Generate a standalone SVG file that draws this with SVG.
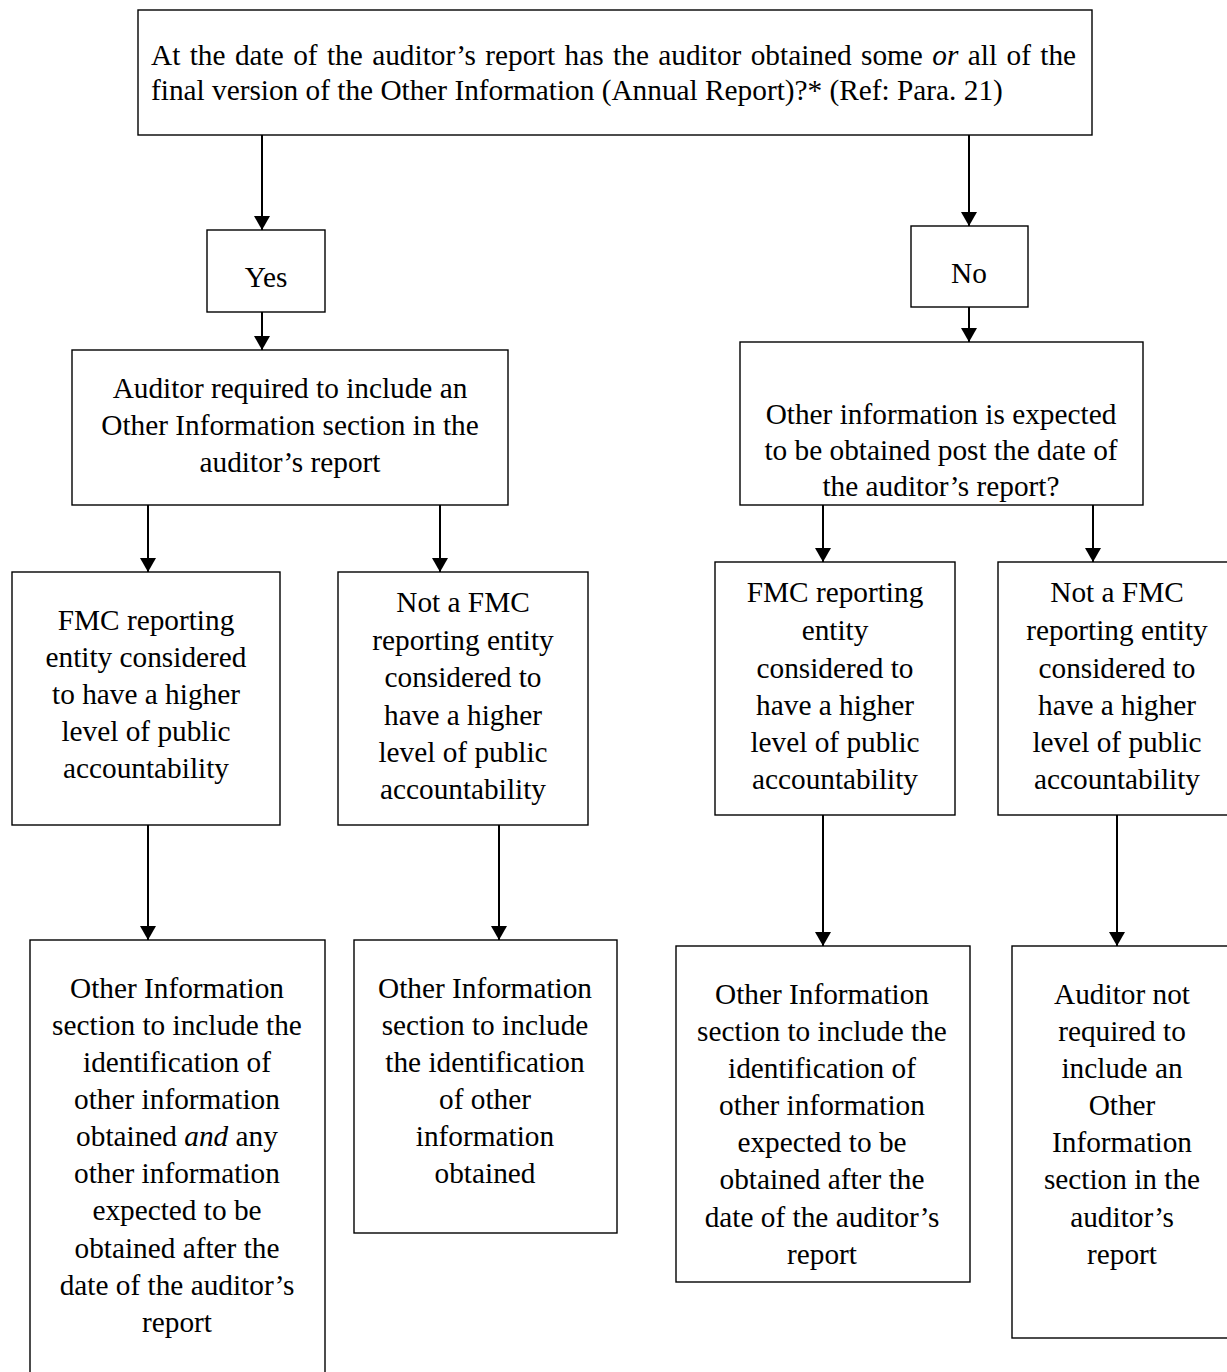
<svg xmlns="http://www.w3.org/2000/svg" width="1227" height="1372" viewBox="0 0 1227 1372">
<style>
.box{fill:#fff;stroke:#000;stroke-width:1.4}
.t{font-family:"Liberation Serif","Times New Roman",serif;font-size:29.3px;fill:#000}
.c{text-anchor:middle}
.ln{stroke:#000;stroke-width:2;fill:none;marker-end:url(#ah)}
</style>
<defs>
<marker id="ah" markerWidth="8" markerHeight="8" refX="7" refY="4" orient="auto" markerUnits="strokeWidth">
<path d="M0,0 L7,4 L0,8 z" fill="#000"/>
</marker>
</defs>
<rect width="1227" height="1372" fill="#fff"/>
<g id="connectors">
<line class="ln" x1="262" y1="135" x2="262" y2="230"/>
<line class="ln" x1="969" y1="135" x2="969" y2="226"/>
<line class="ln" x1="262" y1="312" x2="262" y2="350"/>
<line class="ln" x1="969" y1="307" x2="969" y2="342"/>
<line class="ln" x1="148" y1="505" x2="148" y2="572"/>
<line class="ln" x1="440" y1="505" x2="440" y2="572"/>
<line class="ln" x1="823" y1="505" x2="823" y2="562"/>
<line class="ln" x1="1093" y1="505" x2="1093" y2="562"/>
<line class="ln" x1="148" y1="825" x2="148" y2="940"/>
<line class="ln" x1="499" y1="825" x2="499" y2="940"/>
<line class="ln" x1="823" y1="815" x2="823" y2="946"/>
<line class="ln" x1="1117" y1="815" x2="1117" y2="946"/>
</g>
<g id="n-top">
<rect class="box" x="138" y="10" width="954" height="125"/>
<text class="t" x="151" y="65" word-spacing="2.1">At the date of the auditor’s report has the auditor obtained some <tspan font-style="italic">or</tspan> all of the</text>
<text class="t" x="151" y="100">final version of the Other Information (Annual Report)?* (Ref: Para. 21)</text>
</g>
<g id="n-yes">
<rect class="box" x="207" y="230" width="118" height="82"/>
<text class="t c" x="266" y="287">Yes</text>
</g>
<g id="n-no">
<rect class="box" x="911" y="226" width="117" height="81"/>
<text class="t c" x="969" y="283">No</text>
</g>
<g id="n-required">
<rect class="box" x="72" y="350" width="436" height="155"/>
<text class="t c" x="290" y="398">Auditor required to include an</text>
<text class="t c" x="290" y="435">Other Information section in the</text>
<text class="t c" x="290" y="472">auditor’s report</text>
</g>
<g id="n-expected">
<rect class="box" x="740" y="342" width="403" height="163"/>
<text class="t c" x="941" y="424">Other information is expected</text>
<text class="t c" x="941" y="460">to be obtained post the date of</text>
<text class="t c" x="941" y="496">the auditor’s report?</text>
</g>
<g id="n-fmc-l">
<rect class="box" x="12" y="572" width="268" height="253"/>
<text class="t c" x="146" y="630">FMC reporting</text>
<text class="t c" x="146" y="667">entity considered</text>
<text class="t c" x="146" y="704">to have a higher</text>
<text class="t c" x="146" y="741">level of public</text>
<text class="t c" x="146" y="778">accountability</text>
</g>
<g id="n-notfmc-l">
<rect class="box" x="338" y="572" width="250" height="253"/>
<text class="t c" x="463" y="612">Not a FMC</text>
<text class="t c" x="463" y="650">reporting entity</text>
<text class="t c" x="463" y="687">considered to</text>
<text class="t c" x="463" y="725">have a higher</text>
<text class="t c" x="463" y="762">level of public</text>
<text class="t c" x="463" y="799">accountability</text>
</g>
<g id="n-fmc-r">
<rect class="box" x="715" y="562" width="240" height="253"/>
<text class="t c" x="835" y="602">FMC reporting</text>
<text class="t c" x="835" y="640">entity</text>
<text class="t c" x="835" y="678">considered to</text>
<text class="t c" x="835" y="715">have a higher</text>
<text class="t c" x="835" y="752">level of public</text>
<text class="t c" x="835" y="789">accountability</text>
</g>
<g id="n-notfmc-r">
<rect class="box" x="998" y="562" width="235" height="253"/>
<text class="t c" x="1117" y="602">Not a FMC</text>
<text class="t c" x="1117" y="640">reporting entity</text>
<text class="t c" x="1117" y="678">considered to</text>
<text class="t c" x="1117" y="715">have a higher</text>
<text class="t c" x="1117" y="752">level of public</text>
<text class="t c" x="1117" y="789">accountability</text>
</g>
<g id="n-b1">
<rect class="box" x="30" y="940" width="295" height="445"/>
<text class="t c" x="177" y="998">Other Information</text>
<text class="t c" x="177" y="1035">section to include the</text>
<text class="t c" x="177" y="1072">identification of</text>
<text class="t c" x="177" y="1109">other information</text>
<text class="t c" x="177" y="1146">obtained <tspan font-style="italic">and</tspan> any</text>
<text class="t c" x="177" y="1183">other information</text>
<text class="t c" x="177" y="1220">expected to be</text>
<text class="t c" x="177" y="1258">obtained after the</text>
<text class="t c" x="177" y="1295">date of the auditor’s</text>
<text class="t c" x="177" y="1332">report</text>
</g>
<g id="n-b2">
<rect class="box" x="354" y="940" width="263" height="293"/>
<text class="t c" x="485" y="998">Other Information</text>
<text class="t c" x="485" y="1035">section to include</text>
<text class="t c" x="485" y="1072">the identification</text>
<text class="t c" x="485" y="1109">of other</text>
<text class="t c" x="485" y="1146">information</text>
<text class="t c" x="485" y="1183">obtained</text>
</g>
<g id="n-b3">
<rect class="box" x="676" y="946" width="294" height="336"/>
<text class="t c" x="822" y="1004">Other Information</text>
<text class="t c" x="822" y="1041">section to include the</text>
<text class="t c" x="822" y="1078">identification of</text>
<text class="t c" x="822" y="1115">other information</text>
<text class="t c" x="822" y="1152">expected to be</text>
<text class="t c" x="822" y="1189">obtained after the</text>
<text class="t c" x="822" y="1227">date of the auditor’s</text>
<text class="t c" x="822" y="1264">report</text>
</g>
<g id="n-b4">
<rect class="box" x="1012" y="946" width="220" height="392"/>
<text class="t c" x="1122" y="1004">Auditor not</text>
<text class="t c" x="1122" y="1041">required to</text>
<text class="t c" x="1122" y="1078">include an</text>
<text class="t c" x="1122" y="1115">Other</text>
<text class="t c" x="1122" y="1152">Information</text>
<text class="t c" x="1122" y="1189">section in the</text>
<text class="t c" x="1122" y="1227">auditor’s</text>
<text class="t c" x="1122" y="1264">report</text>
</g>
</svg>
